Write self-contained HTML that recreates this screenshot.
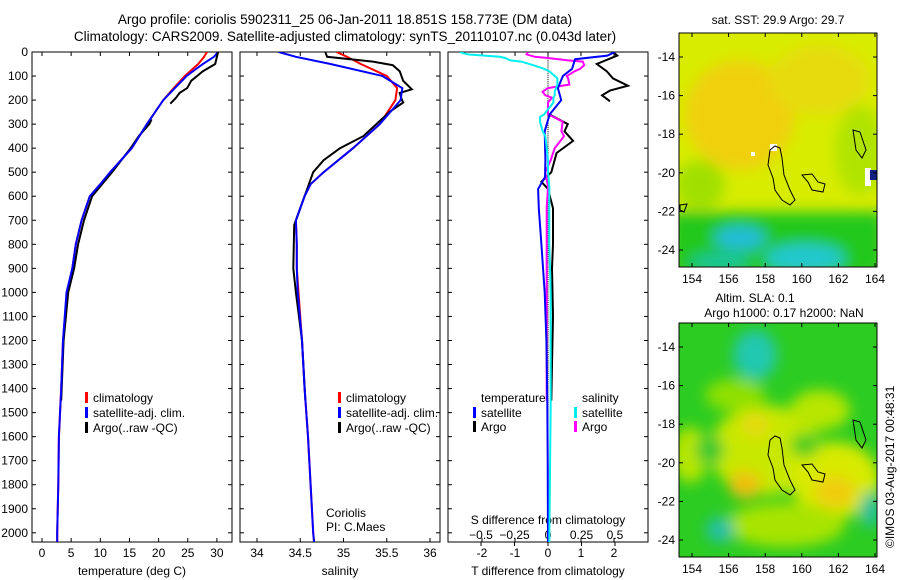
<!DOCTYPE html>
<html><head><meta charset="utf-8"><style>
html,body{margin:0;padding:0;background:#fff;}
svg{display:block;font-family:"Liberation Sans",sans-serif;}
</style></head><body>
<svg id="fig" width="900" height="580" viewBox="0 0 900 580" xmlns="http://www.w3.org/2000/svg">
<defs>
<filter id="blur6" x="-50%" y="-50%" width="200%" height="200%"><feGaussianBlur stdDeviation="7"/></filter>
<clipPath id="clipTop"><rect x="679" y="33" width="198" height="234"/></clipPath>
<clipPath id="clipBot"><rect x="679" y="323" width="198" height="234"/></clipPath>
<clipPath id="c1"><rect x="32" y="52" width="200" height="490"/></clipPath>
<clipPath id="c2"><rect x="240" y="52" width="200" height="490"/></clipPath>
<clipPath id="c3"><rect x="448" y="52" width="200" height="490"/></clipPath>
</defs>
<text x="345" y="24" font-size="13.5" text-anchor="middle">Argo profile: coriolis 5902311_25 06-Jan-2011 18.851S 158.773E (DM data)</text>
<text x="345" y="41" font-size="13.5" text-anchor="middle">Climatology: CARS2009. Satellite-adjusted climatology: synTS_20110107.nc (0.043d later)</text>

<!-- top map -->
<g clip-path="url(#clipTop)">
<rect x="679" y="33" width="198" height="234" fill="#d8ec00"/>
<g filter="url(#blur6)">
<ellipse cx="740" cy="115" rx="55" ry="55" fill="#f0d010"/>
<ellipse cx="820" cy="80" rx="50" ry="35" fill="#e6dc0a"/>
<ellipse cx="860" cy="150" rx="25" ry="45" fill="#b0e400"/>
<ellipse cx="700" cy="185" rx="25" ry="25" fill="#a0e000"/>
<rect x="670" y="212" width="215" height="65" fill="#22c81e"/>
<ellipse cx="740" cy="238" rx="26" ry="12" fill="#20bcd8"/>
<ellipse cx="805" cy="258" rx="40" ry="14" fill="#22c8d0"/>
<ellipse cx="720" cy="262" rx="30" ry="8" fill="#16c4a0"/>
</g>
<rect x="865" y="168" width="6" height="18" fill="#fff"/>
<rect x="870" y="170" width="7" height="10" fill="#102080"/>
<rect x="770" y="144" width="7" height="7" fill="#fff"/>
<rect x="751" y="152" width="4" height="4" fill="#fff"/>
<path d="M770 150 L775 146 L780 148 L782 158 L784 175 L790 190 L795 200 L790 205 L782 200 L775 190 L773 178 L768 165 Z M802 175 L812 174 L818 182 L825 184 L823 192 L812 190 L808 182 Z M853 130 L860 132 L866 150 L862 158 L856 150 Z M680 205 L687 204 L684 212 L680 210 Z" fill="none" stroke="#000" stroke-width="1"/>
</g>
<rect x="679" y="33" width="198" height="234" fill="none" stroke="#000"/>
<text x="778" y="24" font-size="12" text-anchor="middle">sat. SST: 29.9 Argo: 29.7</text>

<!-- bottom map -->
<g clip-path="url(#clipBot)">
<rect x="679" y="323" width="198" height="234" fill="#2ccc22"/>
<g filter="url(#blur6)">
<ellipse cx="765" cy="450" rx="55" ry="45" fill="#c8e800"/>
<ellipse cx="835" cy="480" rx="45" ry="38" fill="#d8ea00"/>
<ellipse cx="690" cy="455" rx="18" ry="28" fill="#b8e600"/>
<ellipse cx="785" cy="525" rx="60" ry="22" fill="#a8e400"/>
<ellipse cx="745" cy="485" rx="16" ry="14" fill="#f0c010"/>
<ellipse cx="755" cy="425" rx="14" ry="12" fill="#e6da10"/>
<ellipse cx="835" cy="492" rx="20" ry="16" fill="#f0cc10"/>
<ellipse cx="820" cy="410" rx="30" ry="20" fill="#b8e600"/>
<ellipse cx="735" cy="395" rx="30" ry="16" fill="#90e000"/>
<ellipse cx="755" cy="355" rx="22" ry="25" fill="#22c8b0"/>
<ellipse cx="720" cy="530" rx="14" ry="13" fill="#22c0a8"/>
<ellipse cx="870" cy="510" rx="10" ry="18" fill="#20c0a0"/>
<ellipse cx="710" cy="450" rx="14" ry="14" fill="#30c830"/>
<ellipse cx="805" cy="445" rx="14" ry="12" fill="#40cc20"/>
</g>
<path d="M770 440 L775 436 L780 438 L782 448 L784 465 L790 480 L795 490 L790 495 L782 490 L775 480 L773 468 L768 455 Z M802 465 L812 464 L818 472 L825 474 L823 482 L812 480 L808 472 Z M853 420 L860 422 L866 440 L862 448 L856 440 Z" fill="none" stroke="#000" stroke-width="1"/>
</g>
<rect x="679" y="323" width="198" height="234" fill="none" stroke="#000"/>
<text x="755" y="302" font-size="12" text-anchor="middle">Altim. SLA: 0.1</text>
<text x="784" y="317" font-size="12" text-anchor="middle">Argo h1000: 0.17 h2000: NaN</text>
<text transform="translate(894,548) rotate(-90)" font-size="12">©IMOS 03-Aug-2017 00:48:31</text>
<g id="axes"></g>
</svg>
<script>
const NS='http://www.w3.org/2000/svg';
const svg=document.getElementById('axes');
// ---- data ----
const climDepth=[0,20,50,100,150,200,300,400,500,550,600,700,800,900,1000,1200,1400,1600,1800,2000,2040];
const climTemp=[28.3,27.8,26.8,24.5,22.6,20.8,18,15.4,11.7,10,8.2,6.8,5.8,5.2,4.3,3.6,3.3,2.9,2.8,2.6,2.6];
const satTemp=[30.2,29.5,27.6,24.8,22.8,20.8,18,15.4,11.7,10,8.2,6.8,5.8,5.2,4.2,3.6,3.3,2.9,2.8,2.6,2.6];
const climSal=[34.92,35.04,35.2,35.5,35.62,35.6,35.42,35.11,34.77,34.62,34.55,34.45,34.46,34.46,34.48,34.52,34.55,34.59,34.62,34.65,34.66];
const satSal=[34.25,34.45,34.85,35.45,35.68,35.66,35.42,35.11,34.77,34.62,34.55,34.45,34.46,34.46,34.47,34.52,34.55,34.59,34.62,34.65,34.66];
const argoDepthA=[0,20,50,80,100,120,150,170,190,215];
const argoTempA=[30.2,30,29.7,27.6,26.6,25.6,24.9,23.6,23,22];
const argoDepth=[0,20,40,55,80,120,155,170,195,210,250,300,350,400,450,500,600,720,900,1000,1200,1450];
const argoSal=[34.79,34.81,35.34,35.57,35.65,35.69,35.79,35.65,35.67,35.69,35.53,35.38,35.23,34.96,34.77,34.65,34.55,34.43,34.42,34.45,34.52,34.56];
const argoDepthB=[280,300,350,400,450,500,600,700,800,900,1000,1200,1450];
const argoTempB=[18.8,18.4,16.6,15.2,13.6,12,8.6,7.2,6.2,5.5,4.5,3.7,3.3];
const sDiffDepth=[0,10,20,25,35,40,55,70,80,100,110,135,150,165,180,190,210,260,270,290,330,350,400,450,500,560,650,800,1000,1450,2040];
const satSDiff=[-0.66,-0.6,-0.36,-0.32,-0.28,-0.2,-0.11,-0.03,0.01,0.05,0.07,0.07,0.06,0.05,0.05,0.04,0.04,-0.03,-0.06,-0.06,-0.04,-0.02,-0.01,0,0,0.01,0.01,0.01,0.02,0.02,0.01];
const argoSDiff=[-0.15,-0.16,-0.1,0,0.15,0.26,0.27,0.24,0.2,0.14,0.15,0.16,0,-0.04,-0.02,0.03,0,0,0.04,0.11,0.1,0.12,0.05,0.02,-0.02,0,-0.01,-0.01,-0.01,-0.01,null];
const tDiffDepth=[0,15,30,70,100,150,200,260,330,450,520,570,650,800,1000,1200,1450,1700,2040];
const satTDiff=[2.03,1.8,0.82,0.73,0.45,0.3,0.4,0.05,-0.1,-0.08,-0.09,-0.3,-0.28,-0.2,-0.1,-0.05,-0.02,-0.01,0];
const argoTDiffDepth=[0,15,50,80,110,140,160,180,205,null,260,300,330,370,420,500,540,570,650,800,900,1100,1300,1450];
const argoTDiff=[1.97,2.1,1.48,1.78,1.97,2.42,1.88,1.64,1.88,null,0.05,0.6,0.5,0.76,0.26,0.1,-0.2,0,0.15,0.15,0.12,0.15,0.12,0.1];
const depthTicks=[0,100,200,300,400,500,600,700,800,900,1000,1100,1200,1300,1400,1500,1600,1700,1800,1900,2000];
const tempTicks=[0,5,10,15,20,25,30];
const salTicks=[34,34.5,35,35.5,36];
const tdTicks=[-2,-1,0,1,2];
const sdTicks=[-0.5,-0.25,0,0.25,0.5];
const latTicks=[-14,-16,-18,-20,-22,-24];
const lonTicks=[154,156,158,160,162,164];
// ---- scales ----
const yD=d=>52+d*0.2404;
const xT=t=>42+t*5.83;
const xS=s=>257+(s-34)*86.5;
const xTD=t=>548+t*33;
const xSD=s=>548+s*134;
const xLon=l=>692+(l-154)*18.3;
const yLatTop=l=>57+(-14-l)*19.3;
const yLatBot=l=>347+(-14-l)*19.3;
function el(tag,attrs,txt){const e=document.createElementNS(NS,tag);for(const k in attrs)e.setAttribute(k,attrs[k]);if(txt!==undefined)e.textContent=txt;svg.appendChild(e);return e;}
function line(xs,ys,xf,color,w,clip,name){let d='',pen=false;for(let i=0;i<xs.length;i++){if(xs[i]===null||ys[i]===null){pen=false;continue;}d+=(pen?'L':'M')+xf(xs[i]).toFixed(1)+' '+yD(ys[i]).toFixed(1)+' ';pen=true;}
const p=el('path',{d:d,fill:'none',stroke:color,'stroke-width':w,'clip-path':'url(#'+clip+')'});

}
const panels=[{x:32,c:'c1',n:'temperature'},{x:240,c:'c2',n:'salinity'},{x:448,c:'c3',n:'difference'}];
panels.forEach((p,pi)=>{
const r=el('rect',{x:p.x,y:52,width:200,height:490,fill:'none',stroke:'#000'});


depthTicks.forEach(d=>{el('line',{x1:p.x,x2:p.x+4,y1:yD(d),y2:yD(d),stroke:'#000'});el('line',{x1:p.x+196,x2:p.x+200,y1:yD(d),y2:yD(d),stroke:'#000'});
if(pi===0){const t=el('text',{x:28,y:yD(d)+4,'font-size':12,'text-anchor':'end'},String(d));}});
});
function xticks(ticks,xf,fmt,y){ticks.forEach(v=>{el('line',{x1:xf(v),x2:xf(v),y1:542,y2:538,stroke:'#000'});el('line',{x1:xf(v),x2:xf(v),y1:52,y2:56,stroke:'#000'});
const t=el('text',{x:xf(v),y:y,'font-size':12,'text-anchor':'middle'},fmt(v));});}
xticks(tempTicks,xT,v=>String(v),557);
xticks(salTicks,xS,v=>String(v),557);
xticks(tdTicks,xTD,v=>String(v),557);
sdTicks.forEach(v=>{el('line',{x1:xSD(v),x2:xSD(v),y1:542,y2:546,stroke:'#000'});const t=el('text',{x:xSD(v),y:539,'font-size':12,'text-anchor':'middle'},v<0?'\u2212'+(-v):String(v));});
[['temperature (deg C)',132,'temperature-axis-title'],['salinity',340,'salinity-axis-title'],['T difference from climatology',548,'t-diff-axis-title']].forEach(a=>{const t=el('text',{x:a[1],y:575,'font-size':12,'text-anchor':'middle'},a[0]);});
const st=el('text',{x:548,y:524,'font-size':12,'text-anchor':'middle'},'S difference from climatology');


for(let d=0;d<2040;d+=8){el('line',{x1:548,x2:548,y1:yD(d),y2:yD(d)+1,stroke:'#000'});}
line(climTemp,climDepth,xT,'#f00',2,'c1','clim-temp-line');
line(argoTempB,argoDepthB,xT,'#000',2,'c1','argo-temp-line-deep');
line(satTemp,climDepth,xT,'#00f',2,'c1','sat-temp-line');
line(argoTempA,argoDepthA,xT,'#000',2,'c1','argo-temp-line');
line(climSal,climDepth,xS,'#f00',2,'c2','clim-sal-line');
line(argoSal,argoDepth,xS,'#000',2,'c2','argo-sal-line');
line(satSal,climDepth,xS,'#00f',2,'c2','sat-sal-line');
line(argoTDiff,argoTDiffDepth,xTD,'#000',2,'c3','argo-tdiff-line');
line(argoSDiff,sDiffDepth,xSD,'#f0f',2,'c3','argo-sdiff-line');
line(satTDiff,tDiffDepth,xTD,'#00f',2,'c3','sat-tdiff-line');
line(satSDiff,sDiffDepth,xSD,'#0ee',2,'c3','sat-sdiff-line');
function leg(x,y,color,label,name){el('rect',{x:x,y:y-10,width:3,height:11,fill:color});const t=el('text',{x:x+8,y:y,'font-size':12},label);}
[[85,'climatology','#f00'],[85,'satellite-adj. clim.','#00f'],[85,'Argo(..raw -QC)','#000']].forEach((a,i)=>leg(a[0],402+i*15,a[2],a[1],'legend-entry'));
[[338,'climatology','#f00'],[338,'satellite-adj. clim.','#00f'],[338,'Argo(..raw -QC)','#000']].forEach((a,i)=>leg(a[0],402+i*15,a[2],a[1],'legend-entry'));
el('text',{x:481,y:402,'font-size':12},'temperature');
el('text',{x:582,y:402,'font-size':12},'salinity');
leg(473,417,'#00f','satellite','legend-entry');
leg(473,431,'#000','Argo','legend-entry');
leg(574,417,'#0ee','satellite','legend-entry');
leg(574,431,'#f0f','Argo','legend-entry');
el('text',{x:326,y:517,'font-size':12},'Coriolis');
el('text',{x:326,y:531,'font-size':12},'PI: C.Maes');
[[33,267,yLatTop,283],[323,557,yLatBot,573]].forEach(m=>{
latTicks.forEach(l=>{const y=m[2](l);el('line',{x1:679,x2:683,y1:y,y2:y,stroke:'#000'});el('line',{x1:873,x2:877,y1:y,y2:y,stroke:'#000'});
const t=el('text',{x:675,y:y+4,'font-size':12,'text-anchor':'end'},'-'+(-l));});
lonTicks.forEach(l=>{const x=xLon(l);el('line',{x1:x,x2:x,y1:m[1],y2:m[1]-4,stroke:'#000'});el('line',{x1:x,x2:x,y1:m[0],y2:m[0]+4,stroke:'#000'});
const t=el('text',{x:x,y:m[3],'font-size':12,'text-anchor':'middle'},String(l));});
});
</script>
</body></html>
